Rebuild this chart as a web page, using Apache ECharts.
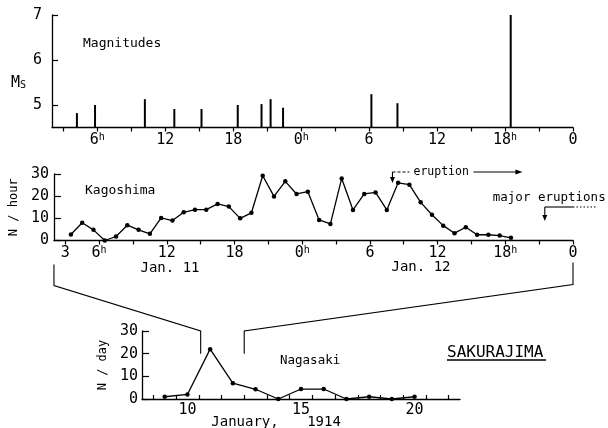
<!DOCTYPE html>
<html><head><meta charset="utf-8">
<script src="https://cdn.jsdelivr.net/npm/echarts@6/dist/echarts.min.js"></script>
<style>html,body{margin:0;padding:0;background:#fff}#c{width:608px;height:428px}</style>
</head><body><div id="c"></div>
<script>
// ---- Data ----
// Top panel: earthquake magnitudes (hours counted from Jan 11, 0h)
const quakeHours = [4.2, 5.8, 10.2, 12.8, 15.2, 18.4, 20.5, 21.3, 22.4, 30.2, 32.5, 42.5];
const quakeMagnitudes = [4.82, 5.0, 5.13, 4.91, 4.91, 5.0, 5.02, 5.13, 4.94, 5.24, 5.04, 7.0];
// Middle panel: Kagoshima, events per hour (plotted at mid-hour)
const kagoHours = [3.5,4.5,5.5,6.5,7.5,8.5,9.5,10.5,11.5,12.5,13.5,14.5,15.5,16.5,17.5,18.5,19.5,20.5,21.5,22.5,23.5,24.5,25.5,26.5,27.5,28.5,29.5,30.5,31.5,32.5,33.5,34.5,35.5,36.5,37.5,38.5,39.5,40.5,41.5,42.5];
const kagoCounts = [2.7,8.0,4.8,0,1.8,6.9,4.8,3.0,10.2,9.0,12.7,13.9,13.9,16.5,15.3,10.0,12.5,29.2,19.9,26.7,21.0,22.0,9.3,7.5,28.0,13.8,21.0,21.7,13.8,26.0,25.2,17.2,11.6,6.7,3.3,6.0,2.6,2.6,2.2,1.2];
// Bottom panel: Nagasaki, events per day (January 1914)
const nagaDays = [9,10,11,12,13,14,15,16,17,18,19,20];
const nagaCounts = [1,2,22,7,4.3,0,4.4,4.4,0,1,0,1];
// Axis ticks and labels
const hourTicks = [3,6,9,12,15,18,21,24,27,30,33,36,39,42,45,48];
const hourLabelValues = [3,6,12,18,24,30,36,42,48];
const hourLabelTexts = ['3','6h','12','18','0h','6','12','18h','0'];
const topHourLabelValues = [6,12,18,24,30,36,42,48];
const magTicks = [5,6,7];
const magLabels = [5,6,7];
const dayTicks = [8.5,9.5,10.5,11.5,12.5,13.5,14.5,15.5,16.5,17.5,18.5,19.5,20.5,21.5];
const dayLabels = [10,15,20];
// Annotation times (hours)
const eruptionStartHour = 32;
const majorEruptionHour = 45.5;
const kagoStartHour = 2, kagoEndHour = 48;

const FONT = '"DejaVu Sans Mono", monospace';
const INK = '#000';
const axisLine = {show:true, onZero:false, lineStyle:{color:INK, width:1.3}};
const richLab = {
  n:{fontFamily:FONT, fontSize:15, color:INK},
  h:{fontFamily:FONT, fontSize:10, color:INK, verticalAlign:'top'}
};
function hourFmt(v){
  const i = hourLabelValues.indexOf(v);
  if (i < 0) return '';
  const t = hourLabelTexts[i];
  return t.endsWith('h') ? '{n|' + t.slice(0,-1) + '}{h|h}' : '{n|' + t + '}';
}
const numLabel = (extra) => Object.assign({fontFamily:FONT, fontSize:15, color:INK}, extra);

const option = {
  animation:false,
  backgroundColor:'#fff',
  grid:[
    {left:52, right:35, top:15, height:112.5},
    {left:52, right:35, top:174, height:66.5},
    {left:142, right:148, top:331, height:68}
  ],
  xAxis:[
    {gridIndex:0, type:'value', min:2, max:48, axisLine,
     axisTick:{show:true, inside:false, length:4, customValues:hourTicks, lineStyle:{color:INK, width:1.2}},
     axisLabel:{customValues:topHourLabelValues, formatter:hourFmt, rich:richLab, margin:5, fontSize:15, fontFamily:FONT, color:INK},
     splitLine:{show:false}},
    {gridIndex:1, type:'value', min:2, max:48, axisLine,
     axisTick:{show:true, inside:false, length:4, customValues:hourTicks, lineStyle:{color:INK, width:1.2}},
     axisLabel:{customValues:hourLabelValues, formatter:hourFmt, rich:richLab, margin:5, fontSize:15, fontFamily:FONT, color:INK},
     splitLine:{show:false}},
    {gridIndex:2, type:'value', min:8, max:22, axisLine,
     axisTick:{show:true, inside:true, length:4, customValues:dayTicks, lineStyle:{color:INK, width:1.2}},
     axisLabel:numLabel({customValues:dayLabels, margin:4}),
     splitLine:{show:false}}
  ],
  yAxis:[
    {gridIndex:0, type:'value', min:4.5, max:7, axisLine,
     axisTick:{show:true, inside:true, length:6, customValues:magTicks, lineStyle:{color:INK, width:1.2}},
     axisLabel:numLabel({customValues:magLabels, margin:10}),
     splitLine:{show:false}},
    {gridIndex:1, type:'value', min:0, max:30, interval:10, axisLine,
     axisTick:{show:true, inside:true, length:7, lineStyle:{color:INK, width:1.2}},
     axisLabel:numLabel({margin:5}),
     name:'N / hour', nameLocation:'middle', nameRotate:90, nameGap:27,
     nameTextStyle:{fontFamily:FONT, fontSize:12, color:INK},
     splitLine:{show:false}},
    {gridIndex:2, type:'value', min:0, max:30, interval:10, axisLine,
     axisTick:{show:true, inside:true, length:7, lineStyle:{color:INK, width:1.2}},
     axisLabel:numLabel({margin:4}),
     name:'N / day', nameLocation:'middle', nameRotate:90, nameGap:27,
     nameTextStyle:{fontFamily:FONT, fontSize:12, color:INK},
     splitLine:{show:false}}
  ],
  series:[
    {type:'bar', xAxisIndex:0, yAxisIndex:0, barWidth:2, clip:true,
     itemStyle:{color:INK},
     data:quakeHours.map((h,i)=>[h, quakeMagnitudes[i]])},
    {type:'line', xAxisIndex:1, yAxisIndex:1, symbol:'circle', symbolSize:4.5, showSymbol:true,
     lineStyle:{color:INK, width:1.3}, itemStyle:{color:INK},
     data:kagoHours.map((h,i)=>[h, kagoCounts[i]])},
    {type:'line', xAxisIndex:2, yAxisIndex:2, symbol:'circle', symbolSize:4.5, showSymbol:true,
     lineStyle:{color:INK, width:1.3}, itemStyle:{color:INK},
     data:nagaDays.map((d,i)=>[d, nagaCounts[i]])}
  ]
};

const chart = echarts.init(document.getElementById('c'), null, {renderer:'canvas'});
chart.setOption(option);

const P = (gi, x, y) => chart.convertToPixel({gridIndex:gi}, [x, y]);
const line = (pts, extra) => ({type:'polyline', silent:true, shape:{points:pts},
  style:Object.assign({stroke:INK, lineWidth:1.1, fill:null}, extra || {})});
const text = (x, y, t, size, align, extra) => ({type:'text', silent:true, x, y,
  style:Object.assign({text:t, fontFamily:FONT, fontSize:size, fill:INK, align:align||'left', verticalAlign:'middle'}, extra || {})});
const headDown = (x, y) => ({type:'polygon', silent:true, shape:{points:[[x-2.5,y-6],[x+2.5,y-6],[x,y]]}, style:{fill:INK}});
const headRight = (x, y) => ({type:'polygon', silent:true, shape:{points:[[x-7,y-2.5],[x-7,y+2.5],[x,y]]}, style:{fill:INK}});

const g = [];
// panel titles
g.push(text(83, 44, 'Magnitudes', 13));
g.push(text(85, 191, 'Kagoshima', 13));
g.push(text(280, 360.5, 'Nagasaki', 12.5));
g.push(text(447, 352.5, 'SAKURAJIMA', 16));
g.push(line([[447, 360], [546, 360]], {lineWidth:1.3}));
// Ms label
g.push({type:'text', silent:true, x:11, y:83, style:{text:'{m|M}{s|S}', verticalAlign:'middle',
  rich:{m:{fontFamily:FONT, fontSize:15, fill:INK}, s:{fontFamily:FONT, fontSize:10, fill:INK, verticalAlign:'bottom'}}}});
// date labels
g.push(text(170, 268, 'Jan. 11', 14, 'center'));
g.push(text(421, 267.5, 'Jan. 12', 14, 'center'));
g.push(text(245, 422.5, 'January,', 14, 'center'));
g.push(text(324, 422.5, '1914', 14, 'center'));

// eruption annotation
const top30 = P(1, eruptionStartHour, 30);
const ey = top30[1] - 2;
const xe = top30[0];
g.push(line([[xe, ey], [xe, ey+9]]));
g.push(headDown(xe, ey+11));
g.push(line([[xe, ey], [xe+17, ey]], {lineDash:[3,2]}));
g.push(text(xe+21, ey, 'eruption', 11.5));
g.push(line([[xe+81, ey], [xe+124, ey]]));
g.push(headRight(xe+130, ey));

// major eruptions annotation
const xm = P(1, majorEruptionHour, 0)[0];
const xEnd = P(1, kagoEndHour, 0)[0];
g.push(text(xm-52, 198, 'major eruptions', 12.5));
g.push(line([[xm, 207], [xm, 216]]));
g.push(headDown(xm, 221));
g.push(line([[xm, 207], [xEnd, 207]]));
g.push(line([[xEnd, 207], [xEnd+24, 207]], {lineDash:[1.5,2]}));

// connecting brackets from the hourly axis to the daily axis
const a0 = P(1, kagoStartHour, 0);
const b30 = P(2, 10.5 + kagoStartHour/24, 30), b20 = P(2, 10.5 + kagoStartHour/24, 20);
g.push(line([[a0[0], a0[1]+24], [a0[0], a0[1]+45], b30, b20]));
const d0 = P(1, kagoEndHour, 0);
const e30 = P(2, 10.5 + kagoEndHour/24, 30), e20 = P(2, 10.5 + kagoEndHour/24, 20);
g.push(line([[d0[0], d0[1]+22], [d0[0], d0[1]+44], e30, e20]));

chart.setOption({graphic:{elements:g}});
</script>
</body></html>
